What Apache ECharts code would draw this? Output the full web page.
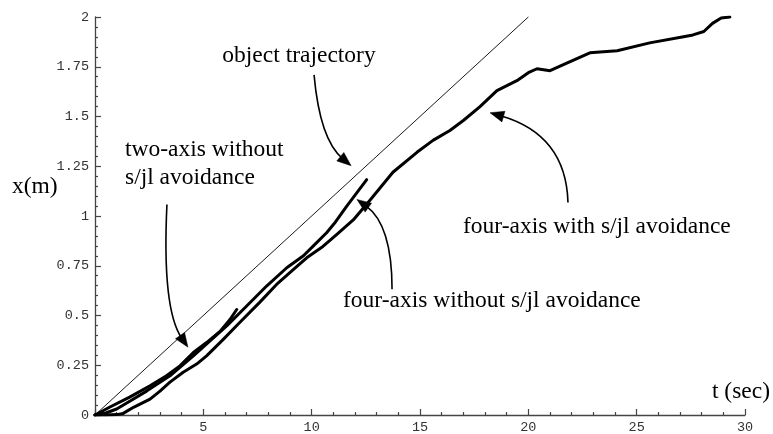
<!DOCTYPE html>
<html><head><meta charset="utf-8">
<script src="https://cdn.jsdelivr.net/npm/echarts@6/dist/echarts.min.js"></script>
<style>html,body{margin:0;padding:0;background:#fff}#c{width:773px;height:434px}</style>
</head><body><div id="c"></div>
<script>
// ---- data (t in sec, x in m) ----
const objectT = [0, 20];
const objectX = [0, 2];

const twoAxisT = [0, 0.69, 1.6, 2.54, 3.3, 3.92, 4.54, 5.15, 5.77, 6.23, 6.54];
const twoAxisX = [0, 0.04, 0.09, 0.147, 0.197, 0.247, 0.314, 0.364, 0.42, 0.48, 0.53];

const fourNoAvoidT = [0, 0.5, 1.0, 1.7, 2.38, 3.46, 4.54, 5.31, 6.08, 7.0, 7.92, 8.85, 9.62, 10.08, 10.69, 11.1, 11.62, 12.08, 12.54];
const fourNoAvoidX = [0, 0.01, 0.03, 0.075, 0.12, 0.197, 0.297, 0.372, 0.448, 0.548, 0.648, 0.74, 0.8, 0.85, 0.916, 0.97, 1.05, 1.116, 1.183];

const fourAvoidT = [0, 0.5, 1.0, 1.3, 1.8, 2.54, 3.0, 3.46, 4.07, 4.69, 5.15, 5.92, 6.69, 7.6, 8.38, 9.15, 9.77, 10.52, 11.15, 11.92, 12.7, 13.75, 14.86, 15.6, 16.38, 17.0, 17.77, 18.55, 19.47, 20.0, 20.4, 21.0, 21.8, 22.84, 24.1, 25.6, 27.1, 27.6, 28.1, 28.5, 28.9, 29.3];
const fourAvoidX = [0, 0, 0.002, 0.008, 0.04, 0.08, 0.12, 0.165, 0.215, 0.256, 0.297, 0.38, 0.466, 0.566, 0.656, 0.73, 0.79, 0.847, 0.907, 0.98, 1.08, 1.22, 1.32, 1.38, 1.43, 1.48, 1.55, 1.63, 1.68, 1.72, 1.74, 1.73, 1.77, 1.82, 1.83, 1.87, 1.90, 1.91, 1.927, 1.968, 1.995, 2.0];

const xTickLabels = ['5', '10', '15', '20', '25', '30'];
const yTickLabels = ['0', '0.25', '0.5', '0.75', '1', '1.25', '1.5', '1.75', '2'];

// annotation labels
const labels = [
  'object trajectory',
  'two-axis without',
  's/jl avoidance',
  'x(m)',
  'four-axis with s/jl avoidance',
  'four-axis without s/jl avoidance',
  't (sec)'
];

// arrows as [start, control, tip] in data coordinates
const arrows = [
  [[10.11, 1.709], [10.38, 1.383], [11.82, 1.253]],
  [[3.32, 1.058], [3.09, 0.531], [4.29, 0.341]],
  [[13.71, 0.632], [13.71, 0.957], [12.09, 1.083]],
  [[21.83, 1.068], [21.74, 1.409], [18.23, 1.519]]
];

function pairs(t, x) { return t.map((v, i) => [v, x[i]]); }

const mono = '"Liberation Mono", "DejaVu Sans Mono", monospace';
const serifFont = '23.5px "Liberation Serif", "Times New Roman", serif';
const axisColor = '#444';

const chart = echarts.init(document.getElementById('c'), null, { renderer: 'canvas' });

function lineSeries(name, data, w) {
  return {
    name: name, type: 'line', data: data, showSymbol: false, symbol: 'none',
    smooth: false, z: 5,
    lineStyle: { color: '#000', width: w, cap: 'round', join: 'round' }
  };
}

chart.setOption({
  animation: false,
  backgroundColor: '#fff',
  grid: { left: 95, right: 28, top: 17, bottom: 18 },
  xAxis: {
    type: 'value', min: 0, max: 30, interval: 5,
    axisLine: { onZero: false, lineStyle: { color: axisColor, width: 1.3 } },
    axisTick: { inside: true, length: 6, lineStyle: { color: axisColor, width: 1.2 } },
    minorTick: { show: true, splitNumber: 5, length: 3, lineStyle: { color: axisColor, width: 1.2 } },
    splitLine: { show: false },
    axisLabel: {
      margin: 5, fontFamily: mono, fontSize: 13.5, color: '#333',
      formatter: function (v) { return v === 0 ? '' : xTickLabels[Math.round(v / 5) - 1]; }
    }
  },
  yAxis: {
    type: 'value', min: 0, max: 2, interval: 0.25,
    axisLine: { onZero: false, lineStyle: { color: axisColor, width: 1.3 } },
    axisTick: { inside: true, length: 6, lineStyle: { color: axisColor, width: 1.2 } },
    minorTick: { show: true, splitNumber: 5, length: 3, lineStyle: { color: axisColor, width: 1.2 } },
    splitLine: { show: false },
    axisLabel: {
      margin: 6, fontFamily: mono, fontSize: 13.5, color: '#333',
      formatter: function (v) { return yTickLabels[Math.round(v / 0.25)]; }
    }
  },
  series: [
    lineSeries('object trajectory', pairs(objectT, objectX), 0.9),
    lineSeries('two-axis without s/jl avoidance', pairs(twoAxisT, twoAxisX), 3),
    lineSeries('four-axis without s/jl avoidance', pairs(fourNoAvoidT, fourNoAvoidX), 3),
    lineSeries('four-axis with s/jl avoidance', pairs(fourAvoidT, fourAvoidX), 3)
  ]
});

// ---- annotations ----
const textPos = [
  { x: 299, y: 56, align: 'center' },
  { x: 125, y: 150, align: 'left' },
  { x: 125, y: 178, align: 'left' },
  { x: 12, y: 187, align: 'left' },
  { x: 463, y: 227, align: 'left' },
  { x: 343, y: 301, align: 'left' },
  { x: 770, y: 392, align: 'right' }
];

const graphics = [];
labels.forEach(function (txt, i) {
  const p = textPos[i];
  graphics.push({
    type: 'text', x: p.x, y: p.y, z: 10,
    style: {
      text: txt, font: serifFont, fill: '#000',
      align: p.align, verticalAlign: 'middle',
      textAlign: p.align, textVerticalAlign: 'middle'
    }
  });
});

arrows.forEach(function (a) {
  const s = chart.convertToPixel({ gridIndex: 0 }, a[0]);
  const c = chart.convertToPixel({ gridIndex: 0 }, a[1]);
  const e = chart.convertToPixel({ gridIndex: 0 }, a[2]);
  const dx = e[0] - c[0], dy = e[1] - c[1];
  const len = Math.sqrt(dx * dx + dy * dy) || 1;
  const ux = dx / len, uy = dy / len;
  const L = 14, W = 5.5;
  const bx = e[0] - ux * L, by = e[1] - uy * L;
  graphics.push({
    type: 'bezierCurve', z: 10,
    shape: { x1: s[0], y1: s[1], cpx1: c[0], cpy1: c[1], x2: bx + ux * 3, y2: by + uy * 3 },
    style: { stroke: '#000', lineWidth: 1.6, fill: null }
  });
  graphics.push({
    type: 'polygon', z: 11,
    shape: { points: [[e[0], e[1]], [bx - uy * W, by + ux * W], [bx + uy * W, by - ux * W]] },
    style: { fill: '#000', stroke: '#000', lineWidth: 0.5 }
  });
});

chart.setOption({ graphic: graphics });
</script>
</body></html>
